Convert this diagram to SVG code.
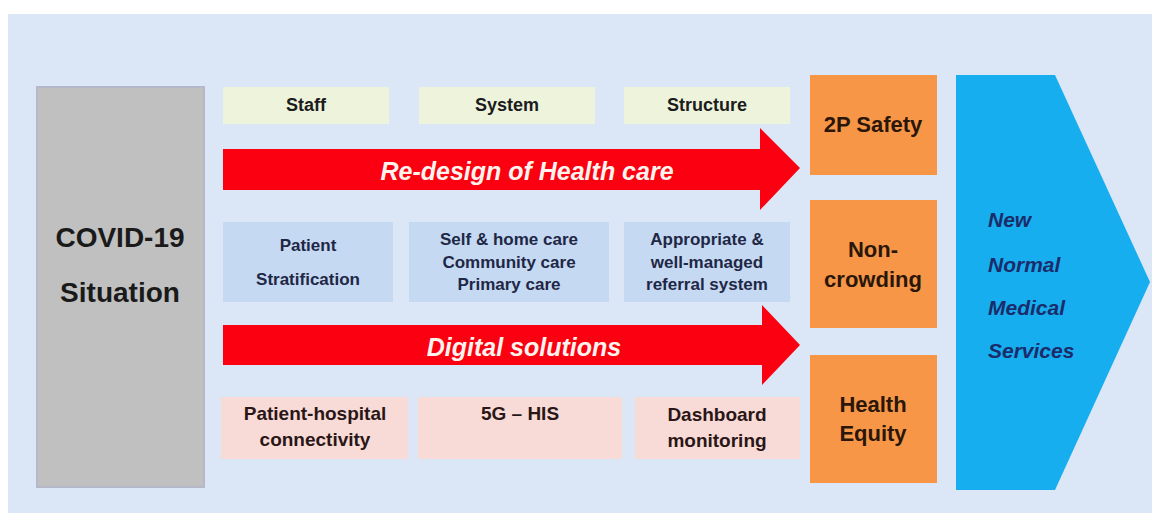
<svg xmlns="http://www.w3.org/2000/svg" width="1152" height="513" viewBox="0 0 1152 513">
  <style>
    text { font-family: "Liberation Sans", Arial, sans-serif; font-weight: bold; text-anchor: middle; }
    .top { fill: #eef4dc; }
    .mid { fill: #c6d9f2; }
    .bot { fill: #f8dbd7; }
    .goal { fill: #f79646; }
    .t-top { font-size: 18px; fill: #1c1c1c; }
    .t-mid { font-size: 17px; fill: #1e2746; }
    .t-bot { font-size: 19px; fill: #2a1616; }
    .t-goal { font-size: 22px; fill: #2a160a; }
    .t-flow { font-size: 25px; font-style: italic; fill: #fff3ee; }
    .t-out { font-size: 21px; font-style: italic; fill: #1b2c6a; text-anchor: start; }
    .flow { fill: #fa0010; }
  </style>

  <!-- backdrop -->
  <rect x="0" y="0" width="1152" height="513" fill="#ffffff"/>
  <rect x="8" y="14" width="1144" height="499" fill="#dbe6f6"/>

  <!-- starting point -->
  <g id="covid">
    <rect x="37" y="87" width="167" height="400" fill="#c0c0c0" stroke="#b4b8c8" stroke-width="2"/>
    <text x="120" y="247" style="font-size:28px; fill:#1a1a1a">COVID-19</text>
    <text x="120" y="302" style="font-size:28px; fill:#1a1a1a">Situation</text>
  </g>

  <!-- top row: 3S -->
  <g id="staff">
    <rect class="top" x="223" y="87" width="166" height="37"/>
    <text class="t-top" x="306" y="111">Staff</text>
  </g>
  <g id="system">
    <rect class="top" x="419" y="87" width="176" height="37"/>
    <text class="t-top" x="507" y="111">System</text>
  </g>
  <g id="structure">
    <rect class="top" x="624" y="87" width="166" height="37"/>
    <text class="t-top" x="707" y="111">Structure</text>
  </g>

  <!-- flow arrows -->
  <g id="connectors">
    <g id="redesign">
      <polygon class="flow" points="223,149 760,149 760,128 800,168 760,210 760,190 223,190"/>
      <text class="t-flow" x="527" y="180">Re-design of Health care</text>
    </g>
    <g id="digital">
      <polygon class="flow" points="223,325 762,325 762,305 800,345 762,385 762,365 223,365"/>
      <text class="t-flow" x="524" y="356">Digital solutions</text>
    </g>
  </g>

  <!-- middle row: care model -->
  <g id="stratification">
    <rect class="mid" x="223" y="222" width="170" height="80"/>
    <text class="t-mid" x="308" y="251">Patient</text>
    <text class="t-mid" x="308" y="285">Stratification</text>
  </g>
  <g id="care-levels">
    <rect class="mid" x="409" y="222" width="200" height="80"/>
    <text class="t-mid" x="509" y="245">Self &amp; home care</text>
    <text class="t-mid" x="509" y="268">Community care</text>
    <text class="t-mid" x="509" y="290">Primary care</text>
  </g>
  <g id="referral">
    <rect class="mid" x="624" y="222" width="166" height="80"/>
    <text class="t-mid" x="707" y="245">Appropriate &amp;</text>
    <text class="t-mid" x="707" y="268">well-managed</text>
    <text class="t-mid" x="707" y="290">referral system</text>
  </g>

  <!-- bottom row: digital tools -->
  <g id="connectivity">
    <rect class="bot" x="221" y="397" width="187" height="62"/>
    <text class="t-bot" x="315" y="420">Patient-hospital</text>
    <text class="t-bot" x="315" y="446">connectivity</text>
  </g>
  <g id="his">
    <rect class="bot" x="418" y="397" width="204" height="62"/>
    <text class="t-bot" x="520" y="420">5G – HIS</text>
  </g>
  <g id="dashboard">
    <rect class="bot" x="635" y="397" width="165" height="62"/>
    <text class="t-bot" x="717" y="421">Dashboard</text>
    <text class="t-bot" x="717" y="447">monitoring</text>
  </g>

  <!-- outcomes -->
  <g id="safety">
    <rect class="goal" x="810" y="75" width="127" height="100"/>
    <text class="t-goal" x="873" y="132">2P Safety</text>
  </g>
  <g id="non-crowding">
    <rect class="goal" x="810" y="200" width="127" height="128"/>
    <text class="t-goal" x="873" y="257">Non-</text>
    <text class="t-goal" x="873" y="287">crowding</text>
  </g>
  <g id="equity">
    <rect class="goal" x="810" y="355" width="127" height="128"/>
    <text class="t-goal" x="873" y="412">Health</text>
    <text class="t-goal" x="873" y="441">Equity</text>
  </g>

  <!-- end state -->
  <g id="new-normal">
    <polygon points="956,75 1055,75 1150,282 1055,490 956,490" fill="#17aef0"/>
    <text class="t-out" x="988" y="227">New</text>
    <text class="t-out" x="988" y="272">Normal</text>
    <text class="t-out" x="988" y="315">Medical</text>
    <text class="t-out" x="988" y="358">Services</text>
  </g>
</svg>
